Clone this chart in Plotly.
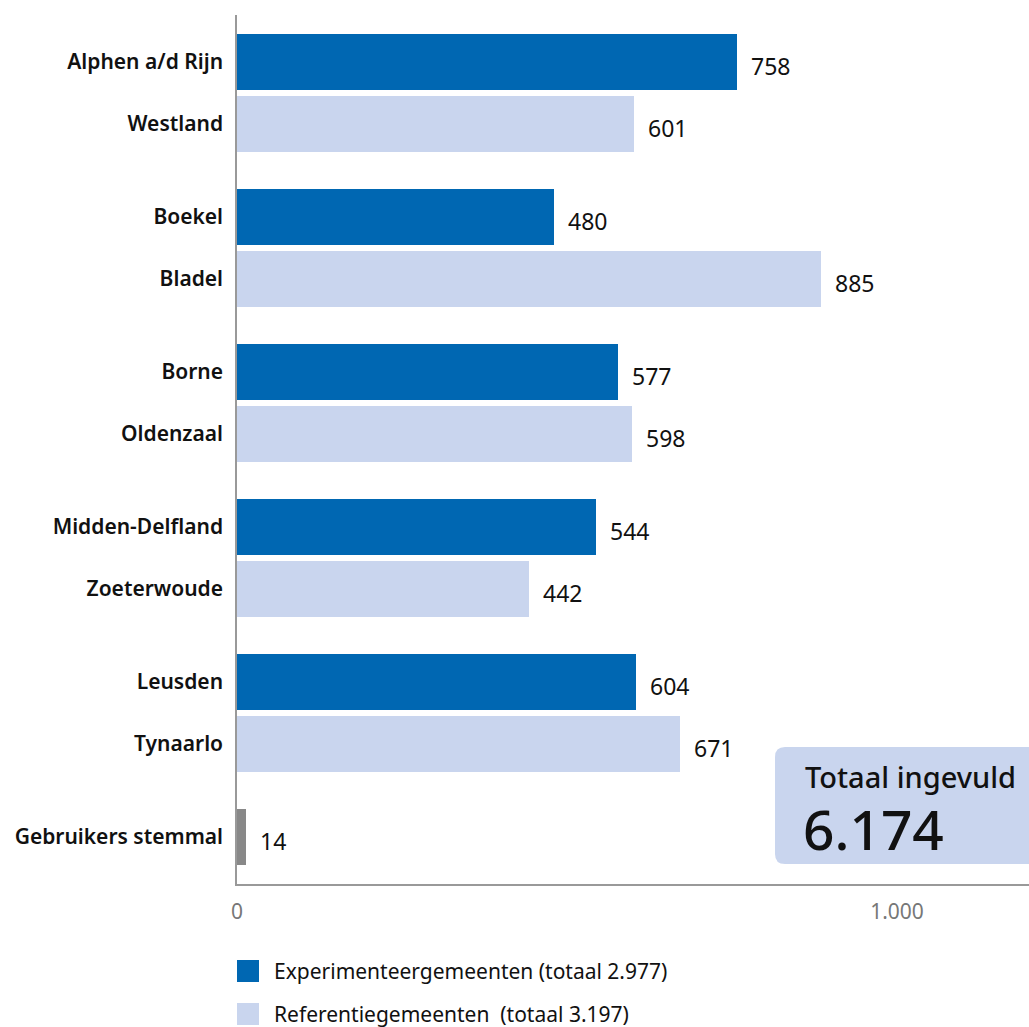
import plotly.graph_objects as go

# ---- data ----
exp_names = ["Alphen a/d Rijn", "Boekel", "Borne", "Midden-Delfland", "Leusden"]
exp_values = [758, 480, 577, 544, 604]
ref_names = ["Westland", "Bladel", "Oldenzaal", "Zoeterwoude", "Tynaarlo"]
ref_values = [601, 885, 598, 442, 671]
other_names = ["Gebruikers stemmal"]
other_values = [14]
legend_labels = ["Experimenteergemeenten (totaal 2.977)", "Referentiegemeenten  (totaal 3.197)"]
total_title = "Totaal ingevuld"
total_value = "6.174"
x_tickvals = [0, 1000]
x_ticktext = ["0", "1.000"]

# ---- style ----
DARK = "#0067B2"
LIGHT = "#C9D5EE"
GREY = "#888888"
FONT = "Noto Sans"
W, H = 1029, 1027
L, R, T, B = 237, 0, 15, 143

# positions (layout)
exp_pos = [2.5 * i for i in range(len(exp_names))]
ref_pos = [2.5 * i + 1 for i in range(len(ref_names))]
other_pos = [2.5 * len(exp_names) for _ in other_names]

fig = go.Figure()
for names, vals, pos, col in [
    (exp_names, exp_values, exp_pos, DARK),
    (ref_names, ref_values, ref_pos, LIGHT),
    (other_names, other_values, other_pos, GREY),
]:
    fig.add_trace(go.Bar(
        x=vals, y=pos, orientation="h", width=0.903,
        marker=dict(color=col, line=dict(width=0)),
        showlegend=False, hoverinfo="skip",
    ))
    for v, p in zip(vals, pos):
        fig.add_annotation(x=v, y=p, text=str(v), showarrow=False,
                           xanchor="left", xshift=12, yshift=-4,
                           font=dict(family=FONT, size=23, color="#111111"))

tickvals = exp_pos + ref_pos + other_pos
ticktext = exp_names + ref_names + other_names

plot_h = H - T - B
plot_w = W - L - R
def py(pix):
    return (H - B - pix) / plot_h
def px(pix):
    return (pix - L) / plot_w

# legend
legend_y = [971, 1014]
for lbl, col, yc in zip(legend_labels, [DARK, LIGHT], legend_y):
    fig.add_shape(type="rect", xref="paper", yref="paper",
                  x0=px(237), x1=px(259), y0=py(yc - 11), y1=py(yc + 11),
                  fillcolor=col, line=dict(width=0))
    fig.add_annotation(xref="paper", yref="paper", x=px(272), y=py(yc),
                       text=lbl, showarrow=False, xanchor="left", yanchor="middle",
                       font=dict(family=FONT, size=21, color="#111111"))

# total box (rounded rect)
x0, x1, y0, y1, r = px(775), px(1045), py(747), py(864), 10
rx = r / plot_w
ry = r / plot_h
path = (f"M {x0+rx},{y0} L {x1},{y0} L {x1},{y1} L {x0+rx},{y1} "
        f"Q {x0},{y1} {x0},{y1+ry} L {x0},{y0-ry} Q {x0},{y0} {x0+rx},{y0} Z")
fig.add_shape(type="path", xref="paper", yref="paper", path=path,
              fillcolor=LIGHT, line=dict(width=0), layer="below")
fig.add_annotation(xref="paper", yref="paper", x=px(803), y=py(798),
                   text=total_title, showarrow=False, xanchor="left", yanchor="bottom",
                   font=dict(family=FONT, size=29, color="#111111", weight=500))
fig.add_annotation(xref="paper", yref="paper", x=px(801), y=py(789),
                   text=total_value, showarrow=False, xanchor="left", yanchor="top",
                   font=dict(family=FONT, size=55, color="#111111", weight=500))

fig.update_layout(
    width=W, height=H,
    margin=dict(l=L, r=R, t=T, b=B, pad=0),
    paper_bgcolor="white", plot_bgcolor="white",
    bargap=0,
    xaxis=dict(range=[0, 1200], tickvals=x_tickvals, ticktext=x_ticktext,
               showgrid=False, zeroline=False, showline=True, linecolor="#999999",
               linewidth=1.5, ticks="", ticklabelstandoff=8,
               tickfont=dict(family=FONT, size=21, color="#777777"),
               fixedrange=True),
    yaxis=dict(range=[13.258, -0.758], tickvals=tickvals, ticktext=ticktext,
               showgrid=False, zeroline=False, showline=True, linecolor="#999999",
               linewidth=1.5, ticks="", ticklabelstandoff=8,
               tickfont=dict(family=FONT, size=21, color="#111111", weight=600),
               fixedrange=True),
)

fig.write_html("out.html", config={"displayModeBar": False},
               post_script="document.body.style.margin='0';document.body.style.overflow='hidden';")
